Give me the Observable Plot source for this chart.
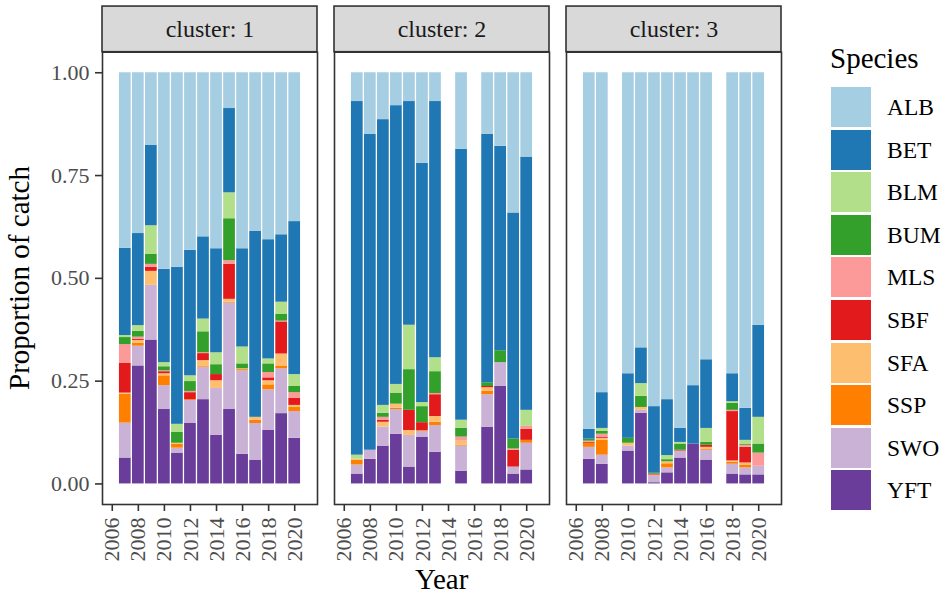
<!DOCTYPE html>
<html>
<head>
<meta charset="utf-8">
<script src="https://cdn.jsdelivr.net/npm/d3@7"></script>
<script src="https://cdn.jsdelivr.net/npm/@observablehq/plot@0.6"></script>
<style>
  html, body { margin: 0; padding: 0; background: #fff; }
  #chart { position: relative; width: 943px; height: 597px; overflow: hidden;
           font-family: "Liberation Serif", "Times New Roman", serif; }
  #chart svg { position: absolute; left: 0; top: 0; }
  .axis-title { position: absolute; font-family: "Liberation Serif", serif; font-size: 29px; line-height: 29px; color: #000; white-space: nowrap; }
  .legend-title { position: absolute; left: 830px; top: 44px; font-family: "Liberation Serif", serif; font-size: 29px; line-height: 29px; color: #000; }
  .legend-key { position: absolute; left: 831px; width: 40px; height: 40px; }
  .legend-label { position: absolute; left: 887px; font-family: "Liberation Serif", serif; font-size: 23.5px; line-height: 40px; height: 40px; color: #000; }
</style>
</head>
<body>
<div id="chart"></div>
<script>
// Species, in legend order, with their fill colours
const species = ["ALB", "BET", "BLM", "BUM", "MLS", "SBF", "SFA", "SSP", "SWO", "YFT"];
const speciesColors = ["#a6cee3", "#1f78b4", "#b2df8a", "#33a02c", "#fb9a99",
                       "#e31a1c", "#fdbf6f", "#ff7f00", "#cab2d6", "#6a3d9a"];
// Stacking order, bottom to top
const stackOrder = ["YFT", "SWO", "SSP", "SFA", "SBF", "MLS", "BUM", "BLM", "BET", "ALB"];

// Proportion of catch by species and year, cluster 1
const cluster1 = {
  years: [2007, 2008, 2009, 2010, 2011, 2012, 2013, 2014, 2015, 2016, 2017, 2018, 2019, 2020],
  YFT: [0.063, 0.287, 0.350, 0.181, 0.075, 0.147, 0.205, 0.118, 0.181, 0.072, 0.058, 0.130, 0.171, 0.111],
  SWO: [0.085, 0.048, 0.133, 0.058, 0.012, 0.056, 0.078, 0.114, 0.259, 0.203, 0.089, 0.099, 0.109, 0.065],
  SSP: [0.070, 0.007, 0.000, 0.024, 0.010, 0.002, 0.002, 0.000, 0.002, 0.003, 0.008, 0.012, 0.007, 0.010],
  SFA: [0.003, 0.007, 0.034, 0.005, 0.002, 0.000, 0.015, 0.019, 0.007, 0.002, 0.007, 0.010, 0.029, 0.005],
  SBF: [0.072, 0.003, 0.010, 0.005, 0.000, 0.017, 0.017, 0.015, 0.085, 0.000, 0.000, 0.007, 0.078, 0.017],
  MLS: [0.046, 0.005, 0.007, 0.002, 0.000, 0.003, 0.002, 0.000, 0.009, 0.000, 0.000, 0.013, 0.002, 0.014],
  BUM: [0.017, 0.014, 0.024, 0.010, 0.027, 0.024, 0.051, 0.024, 0.102, 0.012, 0.000, 0.021, 0.017, 0.015],
  BLM: [0.005, 0.014, 0.070, 0.010, 0.019, 0.014, 0.031, 0.029, 0.063, 0.041, 0.000, 0.012, 0.029, 0.029],
  BET: [0.212, 0.224, 0.196, 0.227, 0.382, 0.305, 0.200, 0.253, 0.205, 0.239, 0.452, 0.290, 0.164, 0.372],
  ALB: [0.427, 0.391, 0.176, 0.478, 0.473, 0.432, 0.399, 0.428, 0.087, 0.428, 0.386, 0.406, 0.394, 0.362]
};

// Cluster 2
const cluster2 = {
  years: [2007, 2008, 2009, 2010, 2011, 2012, 2013, 2015, 2017, 2018, 2019, 2020],
  YFT: [0.024, 0.060, 0.092, 0.121, 0.041, 0.113, 0.077, 0.031, 0.138, 0.237, 0.024, 0.034],
  SWO: [0.022, 0.022, 0.046, 0.060, 0.077, 0.015, 0.065, 0.061, 0.079, 0.058, 0.017, 0.065],
  SSP: [0.012, 0.000, 0.000, 0.003, 0.000, 0.002, 0.008, 0.002, 0.008, 0.000, 0.000, 0.007],
  SFA: [0.002, 0.000, 0.012, 0.010, 0.012, 0.000, 0.014, 0.010, 0.009, 0.000, 0.000, 0.000],
  SBF: [0.000, 0.000, 0.005, 0.000, 0.049, 0.019, 0.053, 0.000, 0.003, 0.000, 0.041, 0.027],
  MLS: [0.000, 0.000, 0.007, 0.000, 0.000, 0.000, 0.003, 0.010, 0.000, 0.000, 0.003, 0.007],
  BUM: [0.000, 0.000, 0.010, 0.026, 0.099, 0.039, 0.053, 0.021, 0.009, 0.029, 0.024, 0.000],
  BLM: [0.010, 0.000, 0.019, 0.022, 0.108, 0.010, 0.034, 0.020, 0.000, 0.000, 0.000, 0.039],
  BET: [0.860, 0.768, 0.695, 0.678, 0.544, 0.582, 0.623, 0.659, 0.604, 0.497, 0.550, 0.616],
  ALB: [0.070, 0.150, 0.114, 0.080, 0.070, 0.220, 0.070, 0.186, 0.150, 0.179, 0.341, 0.205]
};

// Cluster 3
const cluster3 = {
  years: [2007, 2008, 2010, 2011, 2012, 2013, 2014, 2015, 2016, 2018, 2019, 2020],
  YFT: [0.060, 0.048, 0.080, 0.172, 0.003, 0.027, 0.063, 0.097, 0.058, 0.024, 0.022, 0.022],
  SWO: [0.029, 0.022, 0.012, 0.007, 0.017, 0.012, 0.017, 0.000, 0.024, 0.024, 0.017, 0.021],
  SSP: [0.010, 0.036, 0.000, 0.000, 0.002, 0.010, 0.000, 0.000, 0.003, 0.005, 0.007, 0.000],
  SFA: [0.000, 0.005, 0.007, 0.007, 0.000, 0.005, 0.000, 0.000, 0.004, 0.003, 0.005, 0.000],
  SBF: [0.002, 0.003, 0.000, 0.000, 0.002, 0.000, 0.002, 0.000, 0.005, 0.120, 0.038, 0.000],
  MLS: [0.003, 0.007, 0.000, 0.000, 0.000, 0.000, 0.000, 0.000, 0.000, 0.003, 0.005, 0.032],
  BUM: [0.005, 0.007, 0.012, 0.027, 0.002, 0.005, 0.015, 0.000, 0.007, 0.017, 0.002, 0.022],
  BLM: [0.000, 0.007, 0.000, 0.031, 0.000, 0.010, 0.004, 0.000, 0.034, 0.004, 0.010, 0.065],
  BET: [0.024, 0.087, 0.157, 0.087, 0.162, 0.136, 0.034, 0.142, 0.167, 0.068, 0.078, 0.224],
  ALB: [0.867, 0.778, 0.732, 0.669, 0.812, 0.795, 0.865, 0.761, 0.698, 0.732, 0.816, 0.614]
};

const clusterLabels = ["cluster: 1", "cluster: 2", "cluster: 3"];
const clusterTables = [cluster1, cluster2, cluster3];

// Axis ticks and scale extents
const xTicks = [2006, 2008, 2010, 2012, 2014, 2016, 2018, 2020];
const yTicks = [0, 0.25, 0.5, 0.75, 1];
const xDomain = [2005.25, 2021.75];
const yDomain = [-0.05, 1.05];
const stripTop = 1.161;     // upper edge of the facet strip, in y units
const barWidth = 0.9;
const serif = "'Liberation Serif', 'Times New Roman', serif";

// Long-format rows: one per cluster × year × species, in stacking order
const rows = [];
clusterLabels.forEach((label, c) => {
  const table = clusterTables[c];
  table.years.forEach((year, i) => {
    for (const s of stackOrder) {
      const value = table[s][i];
      if (value > 0) rows.push({cluster: label, year, species: s, value});
    }
  });
});
const strips = clusterLabels.map(cluster => ({cluster}));

const svg = Plot.plot({
  width: 943,
  height: 597,
  marginLeft: 101.7,
  marginRight: 161.3,
  marginTop: 51.7,
  marginBottom: 93,
  style: {fontFamily: serif, background: "#fff", overflow: "visible"},
  fx: {domain: clusterLabels, paddingInner: 0.072, paddingOuter: 0, axis: null},
  x: {domain: xDomain},
  y: {domain: yDomain},
  color: {domain: species, range: speciesColors},
  marks: [
    Plot.rectY(rows, Plot.stackY({
      fx: "cluster",
      x1: d => d.year - barWidth / 2,
      x2: d => d.year + barWidth / 2,
      y: "value",
      fill: "species"
    })),
    Plot.frame({stroke: "#333333", strokeWidth: 1.6}),
    // facet strips
    Plot.rect(strips, {
      fx: "cluster",
      x1: () => xDomain[0], x2: () => xDomain[1],
      y1: () => yDomain[1], y2: () => stripTop,
      fill: "#d9d9d9", stroke: "#333333", strokeWidth: 1.6
    }),
    Plot.text(strips, {
      fx: "cluster",
      x: () => (xDomain[0] + xDomain[1]) / 2,
      y: () => (yDomain[1] + stripTop) / 2,
      text: "cluster",
      fontSize: 24,
      fontFamily: serif,
      fill: "#1a1a1a"
    }),
    Plot.axisY({
      ticks: yTicks,
      tickFormat: d3.format(".2f"),
      tickSize: 7,
      tickPadding: 6,
      fontSize: 22,
      fontFamily: serif,
      fontVariant: "normal",
      color: "#4d4d4d",
      stroke: "#333333",
      strokeWidth: 1.6,
      label: null
    }),
    Plot.axisX({
      ticks: xTicks,
      tickFormat: d => String(d),
      tickRotate: -90,
      tickSize: 7,
      tickPadding: 6,
      fontSize: 22,
      fontFamily: serif,
      fontVariant: "normal",
      color: "#4d4d4d",
      stroke: "#333333",
      strokeWidth: 1.6,
      label: null
    })
  ]
});

const chart = document.getElementById("chart");
chart.appendChild(svg);

// Axis titles
const yTitle = document.createElement("div");
yTitle.className = "axis-title";
yTitle.textContent = "Proportion of catch";
Object.assign(yTitle.style, {left: "19px", top: "278px", transform: "translate(-50%, -50%) rotate(-90deg)"});
chart.appendChild(yTitle);

const xTitle = document.createElement("div");
xTitle.className = "axis-title";
xTitle.textContent = "Year";
Object.assign(xTitle.style, {left: "441.7px", top: "565px", transform: "translateX(-50%)"});
chart.appendChild(xTitle);

// Legend
const legendTitle = document.createElement("div");
legendTitle.className = "legend-title";
legendTitle.textContent = "Species";
chart.appendChild(legendTitle);

species.forEach((s, i) => {
  const top = 87 + i * 42.6;
  const key = document.createElement("div");
  key.className = "legend-key";
  key.style.top = top + "px";
  key.style.background = speciesColors[i];
  chart.appendChild(key);
  const label = document.createElement("div");
  label.className = "legend-label";
  label.style.top = top + "px";
  label.textContent = s;
  chart.appendChild(label);
});
</script>
</body>
</html>
